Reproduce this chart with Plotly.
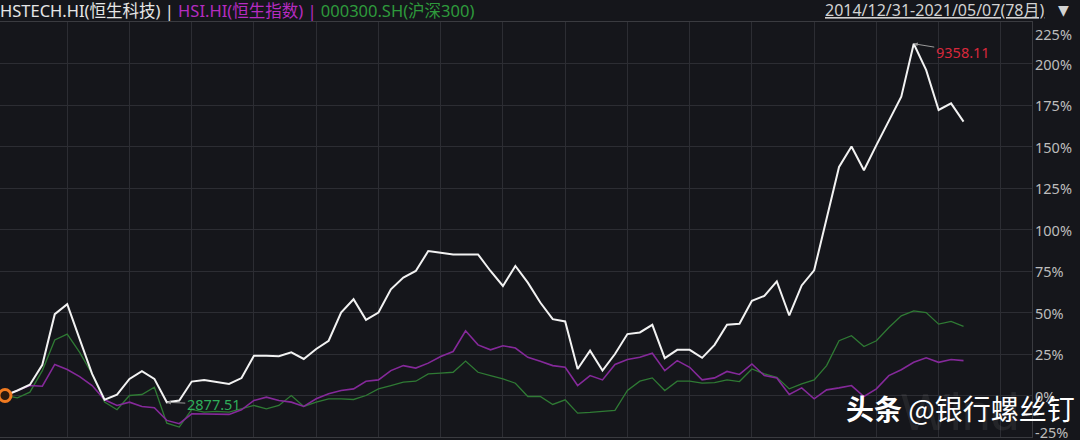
import plotly.graph_objects as go
import pandas as pd

# ---- data (cumulative return %, month-end points 2014/12 .. 2021/05) ----
months = [d.strftime("%Y/%m") for d in pd.date_range("2014-12-31", periods=78, freq="ME")]

hstech = [0, 3, 6.5, 18.5, 49, 55, 34, 13, -2.5, 0.5,
          10, 14.7, 10, -4.1, -3, 8.4, 9.4, 8.4, 7, 10.5,
          24, 24, 23.7, 26, 22, 28, 33, 50, 58, 45.6,
          50, 64, 71, 75, 87, 86, 85, 85, 85, 75,
          66, 78, 68, 56, 46, 44.6, 16, 27, 15, 25,
          37, 38, 42.6, 22.5, 27.5, 27.5, 22.7, 30.5, 42.6, 43.2,
          57, 60, 68.7, 48.2, 66.3, 75.4, 107, 137.7, 150, 135.7,
          150.8, 165.8, 180, 211.9, 196, 172, 176, 165]

hsi = [0, 3, 6, 5.6, 18.7, 15.7, 11.4, 6, -2.6, -6,
       -4, -6.6, -7.4, -15, -17, -11, -11, -11, -11.4, -8.6,
       -3, -1, -3, -4, -6.6, -2, 1, 3, 4, 8.6,
       9.4, 15, 18, 16.5, 19.5, 23.5, 26.5, 39, 30.5, 27.5,
       30, 28.6, 23, 20.7, 18, 17, 6, 12, 9.4, 18.7,
       21.7, 23, 25.5, 15, 21, 17, 9.4, 10.6, 14.5, 12.7,
       19, 12, 10.6, 0.6, 4.6, -2, 3.4, 4.6, 6, -0.6,
       4, 12, 15.5, 20, 22.7, 20, 21.7, 21]

csi300 = [0, -1.4, 2, 15, 33.5, 37, 26, 13, -4, -8.6,
          0, 0.6, 5, -16.7, -19, -8.4, -10, -9.6, -10, -8,
          -6, -8, -6, 0, -6.6, -4, -2, -2, -2.4, 0,
          4, 6, 8, 8.6, 13, 13.5, 14, 20.7, 14, 12,
          10, 7.4, -0.6, -0.6, -5.4, -2.6, -10.6, -10.2, -9.8, -9,
          3, 8.6, 10.6, 3, 8.6, 8.6, 7.4, 7.8, 9.4, 8.4,
          16, 13, 11, 4, 7, 9.4, 18, 33, 36, 29.5,
          33, 41, 48, 51, 50, 43, 44.6, 41.6]

ytick_vals = [-25, 0, 25, 50, 75, 100, 125, 150, 175, 200, 225]
ytick_text = [f"{v}%" for v in ytick_vals]
xgrid_vals = [5, 10, 15, 20, 25, 30, 35, 40, 45, 50, 55, 60, 65, 70, 75, 80]

max_label = "9358.11"
min_label = "2877.51"

BG = "#15161b"
GRID = "#2c2d33"
FONT = "Noto Sans, Noto Sans CJK SC"

x = list(range(len(months)))

fig = go.Figure()
fig.add_trace(go.Scatter(x=x, y=csi300, mode="lines", line=dict(color="#2f7a34", width=1.3),
                         text=months, name="000300.SH"))
fig.add_trace(go.Scatter(x=x, y=hsi, mode="lines", line=dict(color="#85299a", width=1.6),
                         text=months, name="HSI.HI"))
fig.add_trace(go.Scatter(x=x, y=hstech, mode="lines", line=dict(color="#f2f2f2", width=2),
                         text=months, name="HSTECH.HI"))
# start marker
fig.add_trace(go.Scatter(x=[x[0]], y=[hstech[0]], mode="markers",
                         marker=dict(size=12, color="#2a1a10", line=dict(color="#f07a20", width=3))))

imax = hstech.index(max(hstech))
imin = hstech.index(min(hstech))

ann = []
ann.append(dict(x=imax, y=hstech[imax], xref="x", yref="y", text=max_label, showarrow=True,
                ax=49, ay=8, arrowhead=2, arrowsize=0.8, arrowwidth=1, arrowcolor="#9a9a9a",
                xanchor="center", yanchor="middle",
                font=dict(size=14.5, color="#d8283c", family=FONT)))
ann.append(dict(x=imin, y=hstech[imin], xref="x", yref="y", text=min_label, showarrow=True,
                ax=47, ay=2, arrowhead=2, arrowsize=0.8, arrowwidth=1, arrowcolor="#9a9a9a",
                xanchor="center", yanchor="middle",
                font=dict(size=14.5, color="#2fae5a", family=FONT)))

for v, t in zip(ytick_vals, ytick_text):
    shift = 0
    if v == ytick_vals[-1]:
        shift = -12
    elif v == ytick_vals[0]:
        shift = 5
    ann.append(dict(x=1, y=v, xref="paper", yref="y", text=t, showarrow=False, xanchor="left",
                    yanchor="middle", xshift=1, yshift=shift,
                    font=dict(size=14.5, color="#bdbdbd", family=FONT)))

# header
hdr = ("<span style='color:#e6e6e6'>HSTECH.HI(恒生科技)</span>"
       "<span style='color:#e6e6e6'> | </span>"
       "<span style='color:#b52cc0'>HSI.HI(恒生指数)</span>"
       "<span style='color:#b52cc0'> | </span>"
       "<span style='color:#2e9a3c'>000300.SH(沪深300)</span>")
ann.append(dict(x=0, y=1, xref="paper", yref="paper", yanchor="middle", xanchor="left",
                text=hdr, showarrow=False, xshift=-1, yshift=12, borderpad=0,
                font=dict(size=16.5, family=FONT)))
ann.append(dict(x=1, y=1, xref="paper", yref="paper", yanchor="middle", xanchor="left",
                text="<u>2014/12/31-2021/05/07(78月)</u>", showarrow=False, xshift=-208, yshift=12,
                borderpad=0, font=dict(size=16, color="#d2d2d2", family=FONT)))
ann.append(dict(x=1, y=1, xref="paper", yref="paper", yanchor="middle", xanchor="left",
                text="▼", showarrow=False, xshift=25, yshift=12, borderpad=0,
                font=dict(size=14, color="#d2d2d2", family="DejaVu Sans")))

# watermarks
ann.append(dict(x=0.93, y=0.06, xref="paper", yref="paper", text="Wind", showarrow=False,
                font=dict(size=52, color="rgba(190,190,190,0.09)", family="Liberation Sans"),
                xanchor="center", yanchor="middle"))
ann.append(dict(x=1, y=0, xref="paper", yref="paper", text="<b>头条</b> @银行螺丝钉", showarrow=False,
                xanchor="right", yanchor="middle", xshift=44, yshift=29, borderpad=0,
                font=dict(size=28, color="#ffffff", family="Noto Sans CJK SC")))

fig.update_layout(
    width=1080, height=440,
    margin=dict(l=0, r=48, t=22, b=3),
    paper_bgcolor=BG, plot_bgcolor=BG,
    showlegend=False,
    annotations=ann,
    xaxis=dict(range=[-0.4, 82.5], tickvals=xgrid_vals, showticklabels=False,
               showgrid=True, gridcolor=GRID, gridwidth=1, zeroline=False,
               showline=True, linecolor="#3a3b40", mirror=True, fixedrange=True),
    yaxis=dict(range=[-25, 225], tickvals=ytick_vals, showticklabels=False, side="right",
               showgrid=True, gridcolor=GRID, gridwidth=1, zeroline=False,
               showline=True, linecolor="#3a3b40", mirror=True, fixedrange=True),
)

fig.write_html("out.html", config={"displayModeBar": False},
               post_script="document.body.style.margin='0';document.body.style.overflow='hidden';"
                           "document.body.style.background='#15161b';")
